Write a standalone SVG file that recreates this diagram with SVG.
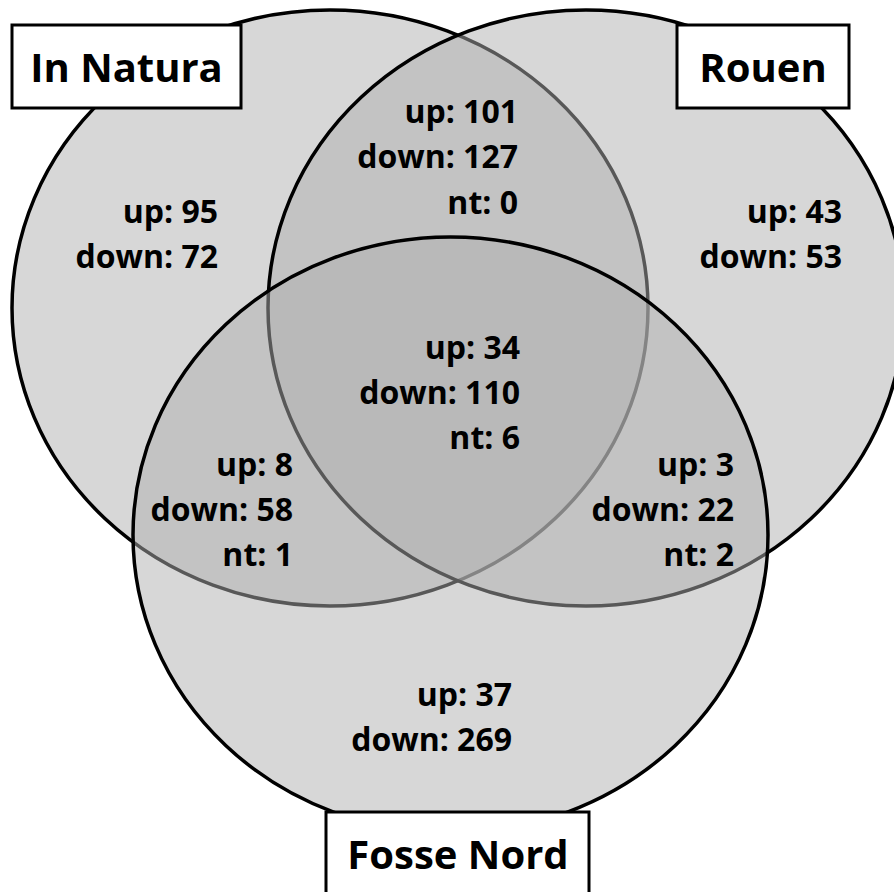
<svg xmlns="http://www.w3.org/2000/svg" width="894" height="892" viewBox="0 0 894 892">
<style>
.set{fill:rgba(176,176,176,0.5);stroke:#000;stroke-width:3.5}
.lbl{fill:#fff;stroke:#000;stroke-width:3}
.lt{font-family:"Open Sans","DejaVu Sans",sans-serif;font-weight:bold;font-size:40px;fill:#000;text-anchor:middle}
.n{font-family:"Open Sans","DejaVu Sans",sans-serif;font-weight:bold;font-size:32px;fill:#000;text-anchor:end}
</style>
<rect x="0" y="0" width="894" height="892" fill="#fff"/>
<g id="set-in-natura"><ellipse class="set" cx="330" cy="308" rx="318" ry="298"/></g>
<g id="set-rouen"><ellipse class="set" cx="586" cy="308" rx="318" ry="298"/></g>
<g id="set-fosse-nord"><ellipse class="set" cx="450.5" cy="535" rx="317.5" ry="298"/></g>
<g id="counts">
<text class="n" x="218" y="223">up: 95</text>
<text class="n" x="218" y="268">down: 72</text>
<text class="n" x="518" y="123">up: 101</text>
<text class="n" x="518" y="168">down: 127</text>
<text class="n" x="518" y="214">nt: 0</text>
<text class="n" x="842" y="223">up: 43</text>
<text class="n" x="842" y="268">down: 53</text>
<text class="n" x="520" y="359">up: 34</text>
<text class="n" x="520" y="404">down: 110</text>
<text class="n" x="520" y="449">nt: 6</text>
<text class="n" x="293" y="476">up: 8</text>
<text class="n" x="293" y="521">down: 58</text>
<text class="n" x="293" y="566">nt: 1</text>
<text class="n" x="734" y="476">up: 3</text>
<text class="n" x="734" y="521">down: 22</text>
<text class="n" x="734" y="566">nt: 2</text>
<text class="n" x="512" y="706">up: 37</text>
<text class="n" x="512" y="751">down: 269</text>
</g>
<g id="label-in-natura"><rect class="lbl" x="12" y="25" width="229" height="83"/><text class="lt" x="126.5" y="82">In Natura</text></g>
<g id="label-rouen"><rect class="lbl" x="677" y="25" width="172" height="83"/><text class="lt" x="763" y="82">Rouen</text></g>
<g id="label-fosse-nord"><rect class="lbl" x="326" y="812" width="263" height="90"/><text class="lt" x="458" y="869">Fosse Nord</text></g>
</svg>
